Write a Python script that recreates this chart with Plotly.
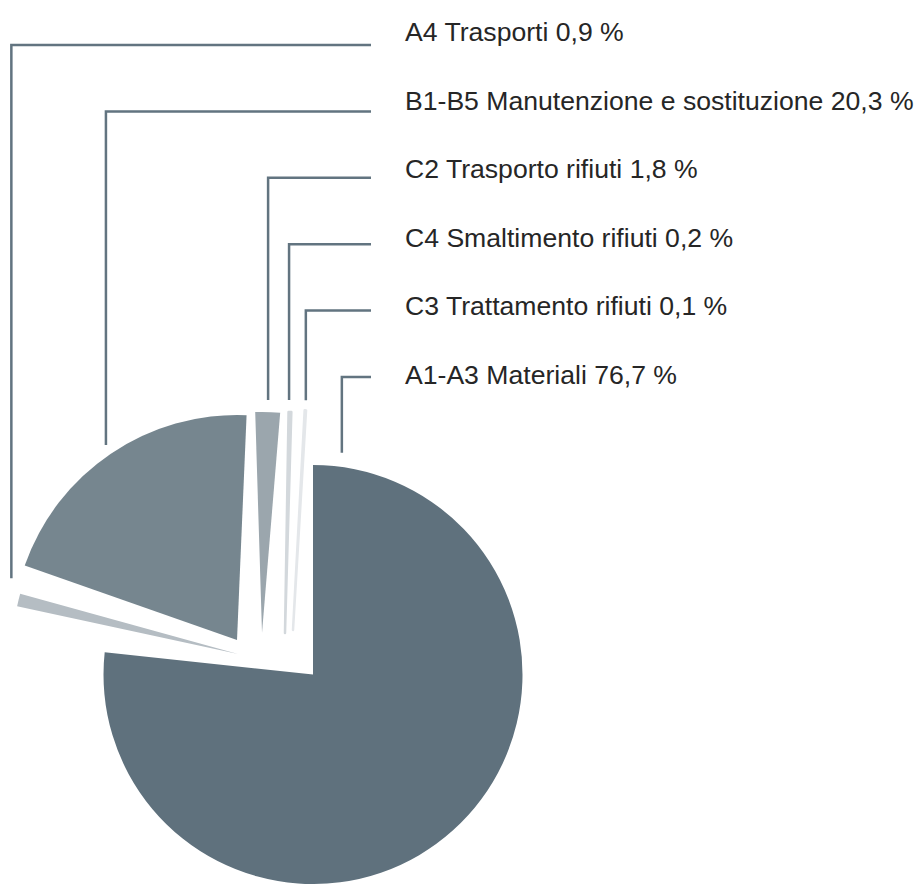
import math
import plotly.graph_objects as go

# ---------------- data ----------------
categories = [
    "A1-A3 Materiali",
    "A4 Trasporti",
    "B1-B5 Manutenzione e sostituzione",
    "C2 Trasporto rifiuti",
    "C4 Smaltimento rifiuti",
    "C3 Trattamento rifiuti",
]
values = [76.7, 0.9, 20.3, 1.8, 0.2, 0.1]
# order of the labels from top to bottom (indices into categories)
label_rows = [1, 2, 3, 4, 5, 0]

# ---------------- style / layout ----------------
W, H = 916, 884
colors = ["#5f717d", "#b5bdc3", "#76868f", "#9ba6ad", "#d3d8dc", "#e4e7ea"]
outline = [0, 0, 0, 0, 2.5, 2.5]
line_color = "#627480"
text_color = "#262626"
font_family = "Arial, Liberation Sans, sans-serif"
font_size = 26.6

# exploded slice placement: tip (px), radius (px), extra tilt (deg)
tips = [(313, 675), (238, 654), (237, 640), (262, 633), (285, 633), (293, 630)]
radii = [210, 226, 225, 221, 221, 220]
tilts = [0.0, 6.1, 10.0, 5.8, 2.0, 3.4]
# leader anchors: angle (deg, clockwise from top) and distance from tip (px)
leader_angle = [7.4, 288.5, 326.1, 1.5, 1.0, 3.2]
leader_dist = [224, 239, 235, 233, 233, 230]
row_top, row_bottom = 45, 377
text_top, text_bottom = 32, 375
line_end_x = 371
text_x = 403

total = sum(values)
fig = go.Figure()

start = 0.0
for i, (cat, v) in enumerate(zip(categories, values)):
    cx, cy = tips[i]
    r = radii[i]
    dom_x = [(cx - r) / W, (cx + r) / W]
    dom_y = [max(0.0, 1 - (cy + r) / H), 1 - (cy - r) / H]
    fig.add_trace(go.Pie(
        values=[v, total - v],
        labels=[cat, "_rest"],
        sort=False,
        direction="clockwise",
        rotation=start + tilts[i],
        marker=dict(colors=[colors[i], "rgba(0,0,0,0)"],
                    line=dict(width=[outline[i], 0],
                              color=[colors[i], "rgba(0,0,0,0)"])),
        textinfo="none",
        hoverinfo="skip",
        showlegend=False,
        domain=dict(x=dom_x, y=dom_y),
    ))
    start += v / total * 360.0

def fmt(v):
    return f"{v:.1f}".replace(".", ",") + " %"

shapes = []
annotations = []
n = len(label_rows)
for row, idx in enumerate(label_rows):
    ly = row_top + (row_bottom - row_top) * row / (n - 1)
    ty = text_top + (text_bottom - text_top) * row / (n - 1)
    cx, cy = tips[idx]
    a = math.radians(leader_angle[idx])
    ax = cx + leader_dist[idx] * math.sin(a)
    ay = cy - leader_dist[idx] * math.cos(a)
    x0 = ax / W
    y0 = 1 - ay / H
    y1 = 1 - ly / H
    x1 = line_end_x / W
    shapes.append(dict(
        type="path", xref="paper", yref="paper",
        path=f"M {x0},{y0} L {x0},{y1} L {x1},{y1}",
        line=dict(color=line_color, width=2.5),
    ))
    annotations.append(dict(
        x=text_x / W, y=1 - ty / H, xref="paper", yref="paper",
        text=f"{categories[idx]} {fmt(values[idx])}",
        showarrow=False, xanchor="left", yanchor="middle",
        font=dict(family=font_family, size=font_size, color=text_color),
    ))

fig.update_layout(
    width=W, height=H, autosize=False,
    margin=dict(l=0, r=0, t=0, b=0),
    paper_bgcolor="white", plot_bgcolor="white",
    shapes=shapes, annotations=annotations,
    showlegend=False,
)

fig.write_html("out.html")
